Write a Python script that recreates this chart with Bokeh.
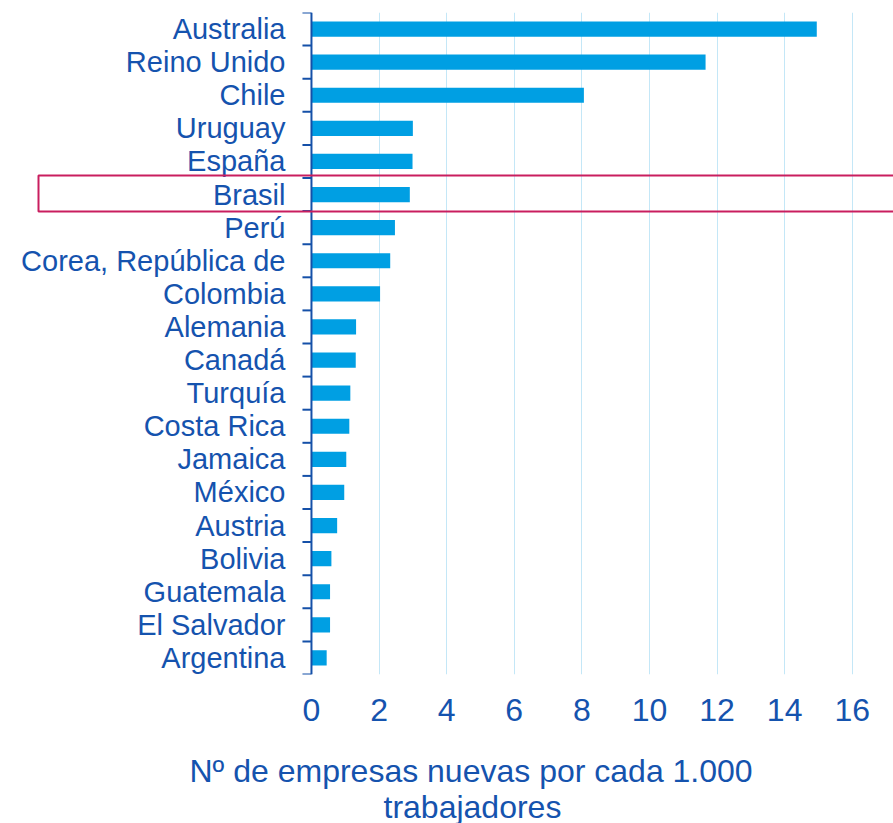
from bokeh.plotting import figure
from bokeh.models import FixedTicker, Range1d, BoxAnnotation, Title, LinearAxis, Span
from bokeh.core.properties import value
from bokeh.embed import file_html
from bokeh.resources import INLINE

countries = ["Australia", "Reino Unido", "Chile", "Uruguay", "España", "Brasil", "Perú",
             "Corea, República de", "Colombia", "Alemania", "Canadá", "Turquía", "Costa Rica",
             "Jamaica", "México", "Austria", "Bolivia", "Guatemala", "El Salvador", "Argentina"]
values = [14.95, 11.66, 8.06, 3.00, 2.99, 2.91, 2.47, 2.33, 2.03, 1.32, 1.31, 1.15, 1.12,
          1.03, 0.97, 0.76, 0.59, 0.55, 0.55, 0.45]
x_ticks = [0, 2, 4, 6, 8, 10, 12, 14, 16]
highlight = "Brasil"
x_title_1 = "Nº de empresas nuevas por cada 1.000"
x_title_2 = "trabajadores"

n = len(countries)
ypos = [n - 1 - i for i in range(n)]
bounds = [k - 0.5 for k in range(n + 1)]

TEXT = "#1553AE"
AXIS = "#1550A8"
BAR = "#009FE3"
GRID = "#C4E7F7"
BOX = "#C91E5F"
FONT = "Liberation Sans"

W, H = 893, 823
TOP, BOTTOM = 12, 149
X0, X1 = -9.20, 17.22
Y0, Y1 = -0.5, n - 0.5
PX_X = W / (X1 - X0)
TICK_LEN = 9 / PX_X

p = figure(width=W, height=H, output_backend="svg", toolbar_location=None,
           x_range=Range1d(X0, X1), y_range=Range1d(Y0, Y1),
           min_border_left=0, min_border_right=0, min_border_top=TOP, min_border_bottom=BOTTOM,
           x_axis_location=None, y_axis_location=None)
p.outline_line_color = None
p.background_fill_color = "white"
p.border_fill_color = "white"

p.xgrid.ticker = FixedTicker(ticks=x_ticks)
p.xgrid.grid_line_color = GRID
p.xgrid.grid_line_width = 1
p.ygrid.grid_line_color = None

p.hbar(y=ypos, right=values, left=0, height=0.46, fill_color=BAR, line_color=None)

# y axis line, boundary ticks and category labels
p.add_layout(Span(location=0, dimension="height", line_color=AXIS, line_width=2))
p.segment(x0=[-TICK_LEN] * len(bounds), x1=[0] * len(bounds), y0=bounds, y1=bounds,
          line_color=AXIS, line_width=2)
p.text(x=[0] * n, y=ypos, text=countries, x_offset=-26, text_align="right",
       text_baseline="middle", text_font=value(FONT), text_font_size="29px", text_color=TEXT)

# x axis (labels only); a tiny blank axis label acts as spacer before the title lines
xa = LinearAxis(ticker=FixedTicker(ticks=x_ticks))
xa.axis_line_color = None
xa.major_tick_line_color = None
xa.minor_tick_line_color = None
xa.major_tick_out = 0
xa.major_label_text_font = FONT
xa.major_label_text_font_size = "32px"
xa.major_label_text_color = TEXT
xa.major_label_standoff = 24
xa.axis_label = " "
xa.axis_label_text_font_size = "1px"
xa.axis_label_standoff = 23
p.add_layout(xa, "below")

hy = ypos[countries.index(highlight)]
box = BoxAnnotation(left=38, left_units="screen", right=900, right_units="screen",
                    bottom=hy - 0.512, top=hy + 0.576,
                    fill_color=None, fill_alpha=0, line_color=BOX, line_alpha=1, line_width=2)
p.add_layout(box)

for txt, off, so in [(x_title_1, 189, 0), (x_title_2, 383, -4)]:
    p.add_layout(Title(text=txt, align="left", offset=off, standoff=so,
                       text_font=FONT, text_font_size="32px", text_font_style="normal",
                       text_color=TEXT), "below")

open("out.html", "w").write(file_html(p, INLINE))
